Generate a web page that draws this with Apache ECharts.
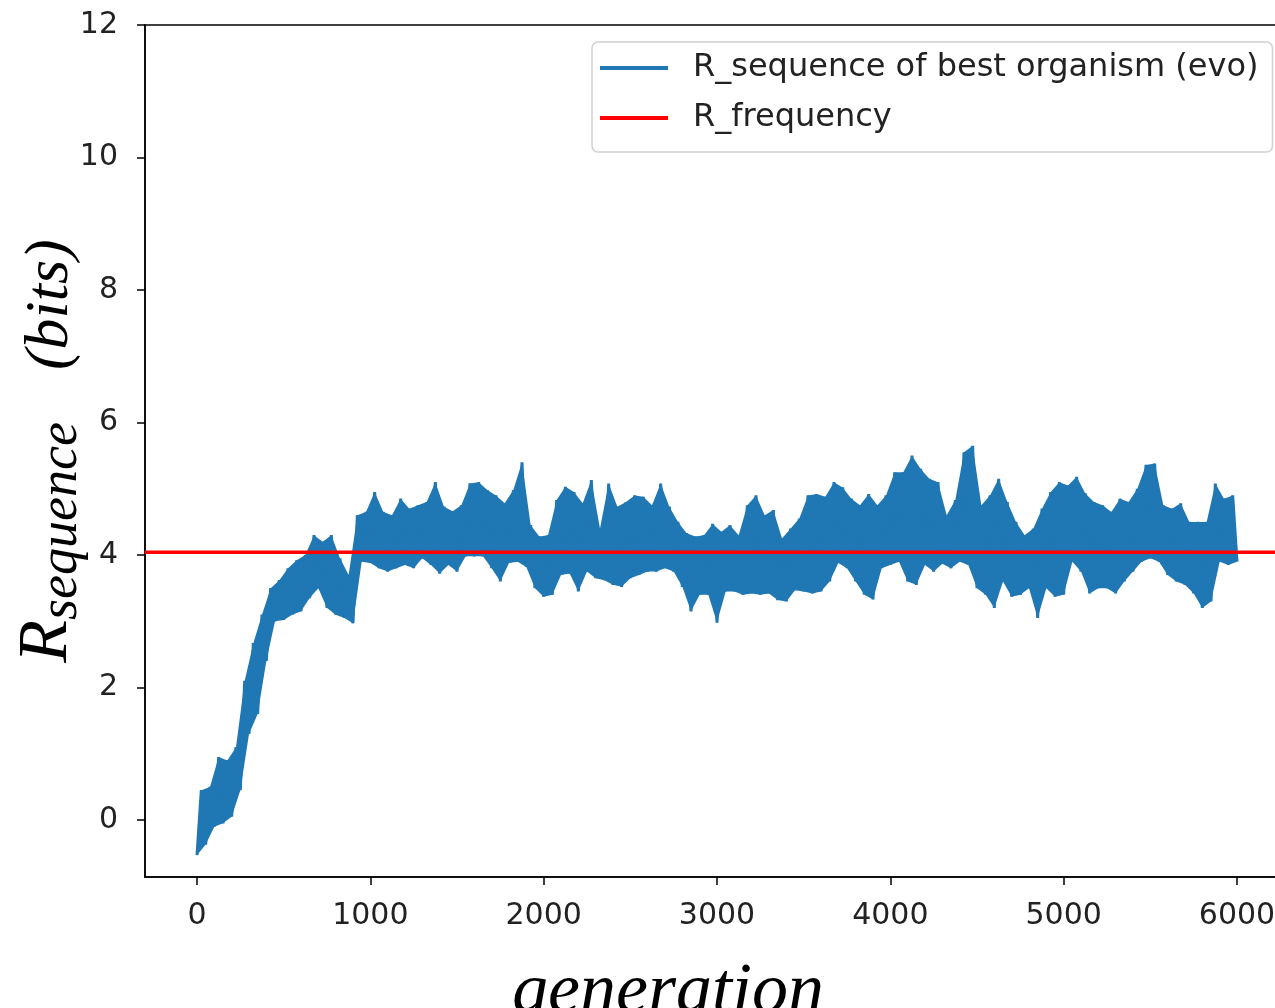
<!DOCTYPE html>
<html>
<head>
<meta charset="utf-8">
<script src="https://cdn.jsdelivr.net/npm/echarts@6/dist/echarts.min.js"></script>
<style>
  html, body { margin: 0; padding: 0; background: #fff; overflow: hidden; }
  #chart { width: 1300px; height: 1008px; }
</style>
</head>
<body>
<div id="chart"></div>
<script>
// generation step between the low samples; the high samples sit half a step later
var genStep = 50;

// lower edge of the noisy R_sequence band, gen 0, 50, ... 6000
var seqLow = [
  -0.53, -0.37, -0.10, -0.05, 0.05, 0.45, 1.30, 1.60, 2.40, 3.00,
  3.02, 3.10, 3.15, 3.35, 3.50, 3.20, 3.10, 3.05, 2.97, 3.90,
  3.88, 3.80, 3.75, 3.80, 3.85, 3.80, 3.95, 3.85, 3.72, 3.85,
  3.75, 3.98, 3.98, 3.98, 3.80, 3.60, 3.88, 3.90, 3.82, 3.50,
  3.37, 3.40, 3.70, 3.72, 3.45, 3.75, 3.65, 3.62, 3.55, 3.52,
  3.65, 3.70, 3.75, 3.75, 3.80, 3.75, 3.52, 3.15, 3.40, 3.40,
  2.98, 3.45, 3.45, 3.40, 3.42, 3.40, 3.42, 3.32, 3.30, 3.47,
  3.45, 3.42, 3.45, 3.60, 3.88, 3.80, 3.60, 3.40, 3.33, 3.80,
  3.85, 3.90, 3.60, 3.55, 3.85, 3.75, 3.87, 3.80, 3.90, 3.85,
  3.50, 3.40, 3.20, 3.60, 3.37, 3.40, 3.50, 3.05, 3.50, 3.37,
  3.40, 3.90, 3.75, 3.42, 3.50, 3.50, 3.42, 3.60, 3.75, 3.90,
  3.95, 3.90, 3.70, 3.60, 3.55, 3.42, 3.20, 3.30, 3.90, 3.85,
  3.90
];

// upper edge of the band, gen 25, 75, ... 5975
var seqHigh = [
  0.45, 0.50, 0.95, 0.90, 1.10, 2.10, 2.67, 3.10, 3.50, 3.62,
  3.80, 3.92, 4.00, 4.30, 4.20, 4.30, 3.95, 3.70, 4.60, 4.65,
  4.95, 4.65, 4.60, 4.85, 4.70, 4.75, 4.80, 5.10, 4.73, 4.66,
  4.75, 5.08, 5.10, 4.98, 4.90, 4.78, 4.98, 5.40, 4.45, 4.28,
  4.30, 4.83, 5.03, 4.95, 4.78, 5.13, 4.40, 5.08, 4.73, 4.80,
  4.90, 4.88, 4.75, 5.08, 4.73, 4.50, 4.33, 4.28, 4.30, 4.47,
  4.35, 4.45, 4.30, 4.75, 4.90, 4.60, 4.68, 4.25, 4.40, 4.55,
  4.90, 4.92, 4.88, 5.10, 5.02, 4.85, 4.75, 4.92, 4.75, 4.90,
  5.25, 5.25, 5.50, 5.30, 5.15, 5.10, 4.60, 4.83, 5.55, 5.65,
  4.75, 4.90, 5.15, 4.80, 4.50, 4.30, 4.40, 4.70, 4.95, 5.10,
  5.05, 5.18, 4.93, 4.80, 4.75, 4.65, 4.85, 4.80, 5.00, 5.36,
  5.38, 4.75, 4.70, 4.78, 4.50, 4.50, 4.50, 5.08, 4.85, 4.90
];

var rFrequency = 4.04;
var xTicks = [0, 1000, 2000, 3000, 4000, 5000, 6000];
var yTicks = [0, 2, 4, 6, 8, 10, 12];
var xRange = [-300, 6300];
var yRange = [-0.86, 12];

var seqPoints = [];
seqLow.forEach(function (v, i) {
  seqPoints.push([i * genStep, v]);
  if (i < seqHigh.length) seqPoints.push([i * genStep + genStep / 2, seqHigh[i]]);
});

var blue = "#1f77b4";
var tickFont = { color: "#222", fontSize: 30, fontFamily: "DejaVu Sans" };
var mathFont = { fontFamily: "Liberation Serif", fontStyle: "italic", color: "#000" };

// the solid core of the band: upper edge through the highs, back along the lows
function renderBand(params, api) {
  var pts = [api.coord([0, seqLow[0]])];
  seqHigh.forEach(function (v, i) { pts.push(api.coord([i * genStep + genStep / 2, v])); });
  for (var i = seqLow.length - 1; i > 0; i--) pts.push(api.coord([i * genStep, seqLow[i]]));
  return { type: "polygon", shape: { points: pts }, style: { fill: blue } };
}

var myChart = echarts.init(document.getElementById("chart"), null, { renderer: "canvas" });

var option = {
  animation: false,
  backgroundColor: "#fff",
  grid: {
    left: 145, top: 25, width: 1144, height: 852,
    containLabel: false, outerBoundsMode: "none",
    show: true, borderColor: "#000", borderWidth: 1.5
  },
  legend: {
    orient: "vertical",
    left: 592, top: 42,
    padding: [10, 14, 18, 8],
    itemGap: 18,
    itemWidth: 68, itemHeight: 4,
    icon: "rect",
    borderColor: "#d0d0d0", borderWidth: 1.5, borderRadius: 6,
    backgroundColor: "rgba(255,255,255,0.85)",
    textStyle: { color: "#222", fontSize: 32, fontFamily: "DejaVu Sans", lineHeight: 30, padding: [0, 0, 0, 20] },
    data: ["R_sequence of best organism (evo)", "R_frequency"]
  },
  xAxis: {
    type: "value",
    min: xRange[0], max: xRange[1],
    name: "generation",
    nameLocation: "middle",
    nameGap: 80,
    nameTextStyle: Object.assign({ fontSize: 72, padding: [0, 98, 0, 0] }, mathFont),
    axisLine: { onZero: false, lineStyle: { color: "#000", width: 1.5 } },
    axisTick: { customValues: xTicks, length: 8, lineStyle: { color: "#000", width: 1.5 } },
    axisLabel: Object.assign({ customValues: xTicks, margin: 24, formatter: function (v) { return String(v); } }, tickFont),
    splitLine: { show: false }
  },
  yAxis: {
    type: "value",
    min: yRange[0], max: yRange[1],
    name: "{r|R}{s|sequence}{b|(bits)}",
    nameLocation: "middle",
    nameRotate: 90,
    nameGap: 56,
    nameMoveOverlap: false,
    nameTextStyle: {
      rich: {
        r: Object.assign({ fontSize: 70, lineHeight: 70, verticalAlign: "bottom", padding: [0, 0, 6, 0] }, mathFont),
        s: Object.assign({ fontSize: 54, lineHeight: 54, verticalAlign: "bottom" }, mathFont),
        b: Object.assign({ fontSize: 62, lineHeight: 62, verticalAlign: "bottom", padding: [0, 0, 7, 52] }, mathFont)
      }
    },
    axisLine: { onZero: false, lineStyle: { color: "#000", width: 1.5 } },
    axisTick: { customValues: yTicks, length: 8, lineStyle: { color: "#000", width: 1.5 } },
    axisLabel: Object.assign({ customValues: yTicks, margin: 27, formatter: function (v) { return String(v); } }, tickFont),
    splitLine: { show: false }
  },
  series: [{
    name: "R_sequence of best organism (evo)",
    type: "line",
    data: seqPoints,
    symbol: "none",
    color: blue,
    lineStyle: { color: blue, width: 3 },
    z: 2
  }, {
    type: "custom",
    data: [0],
    renderItem: renderBand,
    silent: true,
    z: 1
  }, {
    name: "R_frequency",
    type: "line",
    data: [[xRange[0], rFrequency], [xRange[1], rFrequency]],
    symbol: "none",
    color: "#ff0000",
    lineStyle: { color: "#ff0000", width: 3.5 },
    z: 3
  }]
};

myChart.setOption(option);
</script>
</body>
</html>
